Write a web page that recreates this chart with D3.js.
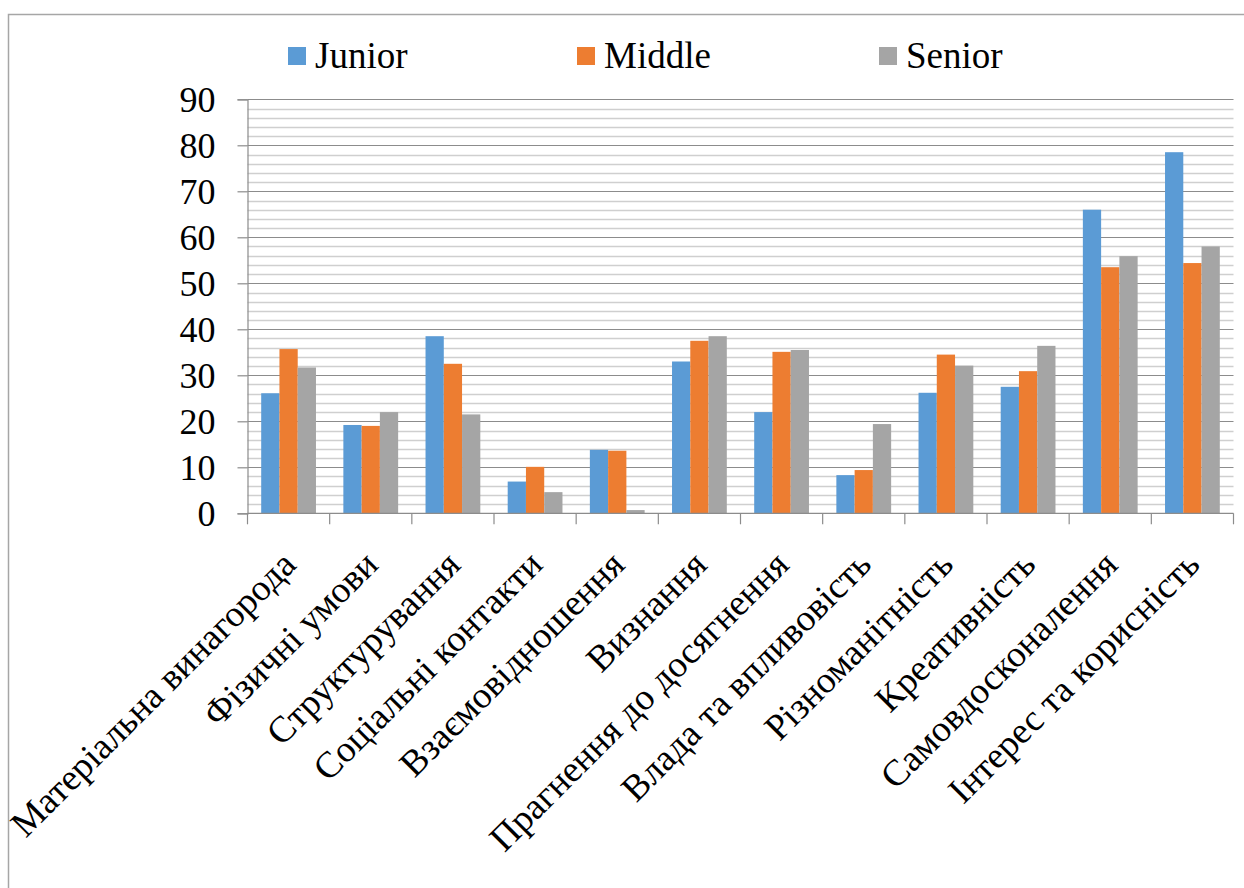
<!DOCTYPE html>
<html>
<head>
<meta charset="utf-8">
<script src="https://cdn.jsdelivr.net/npm/d3@7"></script>
</head>
<body style="margin:0">
<svg id="chart" width="1244" height="888" style="display:block"></svg>
<script>
// Work motivation factors by seniority level
const categories = [
  "Матеріальна винагорода",
  "Фізичні умови",
  "Структурування",
  "Соціальні контакти",
  "Взаємовідношення",
  "Визнання",
  "Прагнення до досягнення",
  "Влада та впливовість",
  "Різноманітність",
  "Креативність",
  "Самовдосконалення",
  "Інтерес та корисність"
];
const seriesNames = ["Junior", "Middle", "Senior"];
const junior = [26.1, 19.2, 38.5, 6.9, 13.8, 33.0, 22.0, 8.3, 26.2, 27.5, 66.0, 78.5];
const middle = [35.7, 19.0, 32.5, 10.1, 13.6, 37.5, 35.1, 9.4, 34.5, 30.9, 53.5, 54.4];
const senior = [31.7, 22.0, 21.5, 4.6, 0.7, 38.5, 35.5, 19.4, 32.1, 36.4, 55.9, 58.0];
const yTicks = [0, 10, 20, 30, 40, 50, 60, 70, 80, 90];
const colors = ["#5B9BD5", "#ED7D31", "#A5A5A5"];

const values = [junior, middle, senior];
const FONT = "'Liberation Serif'";
const svg = d3.select("#chart");

// Outer chart frame (top and left edges)
svg.append("path")
  .attr("d", "M8.5,888 L8.5,14.5 L1244,14.5")
  .attr("fill", "none").attr("stroke", "#a6a6a6").attr("stroke-width", 1.5);

const plot = { left: 247.5, right: 1233.5, top: 99.3, bottom: 513.3 };

const x = d3.scaleBand().domain(categories).range([plot.left, plot.right]).paddingInner(0).paddingOuter(0);
const y = d3.scaleLinear().domain([0, 90]).range([plot.bottom, plot.top]);
const bw = x.bandwidth();
const barW = bw / 4.5;
const xs = d3.scaleBand().domain(seriesNames).range([bw / 2 - 1.5 * barW, bw / 2 + 1.5 * barW]).padding(0);

// Minor gridlines every 2 units
const minor = d3.range(2, 90, 2).filter(v => v % 10 !== 0);
svg.append("g").selectAll("line").data(minor).join("line")
  .attr("x1", plot.left).attr("x2", plot.right)
  .attr("y1", d => Math.round(y(d)) + 0.5).attr("y2", d => Math.round(y(d)) + 0.5)
  .attr("stroke", "#cfcfcf").attr("stroke-width", 1.3);

// Major gridlines
svg.append("g").selectAll("line").data(yTicks.filter(d => d > 0)).join("line")
  .attr("x1", plot.left).attr("x2", plot.right)
  .attr("y1", d => Math.round(y(d)) + 0.5).attr("y2", d => Math.round(y(d)) + 0.5)
  .attr("stroke", "#8c8c8c").attr("stroke-width", 1.2);

// Bars
const groups = svg.append("g").selectAll("g").data(categories).join("g")
  .attr("transform", d => `translate(${x(d)},0)`);
groups.selectAll("rect")
  .data((d, i) => seriesNames.map((s, k) => ({ s, k, v: values[k][i] })))
  .join("rect")
  .attr("x", d => xs(d.s))
  .attr("width", xs.bandwidth())
  .attr("y", d => y(d.v))
  .attr("height", d => y(0) - y(d.v))
  .attr("fill", d => colors[d.k]);

// Y axis
const yAxis = d3.axisLeft(y).tickValues(yTicks).tickSize(10).tickPadding(22).tickFormat(d3.format("d"));
const gy = svg.append("g").attr("transform", `translate(${plot.left},0)`).call(yAxis)
  .attr("font-family", FONT).attr("font-size", 36);
gy.select(".domain").attr("stroke", "#8c8c8c").attr("stroke-width", 1.2);
gy.selectAll(".tick line").attr("stroke", "#8c8c8c").attr("stroke-width", 1.2);
gy.selectAll(".tick text")
  .attr("font-family", FONT).attr("font-size", 36)
  .attr("fill", "#000").attr("dy", "0.34em");

// X axis: tick marks at category boundaries
const gx = svg.append("g").attr("transform", `translate(0,${plot.bottom})`);
gx.append("line").attr("x1", plot.left).attr("x2", plot.right)
  .attr("stroke", "#8c8c8c").attr("stroke-width", 1.2);
const bounds = categories.map(c => x(c)).concat([plot.right]);
gx.selectAll("line.tk").data(bounds).join("line").attr("class", "tk")
  .attr("x1", d => d).attr("x2", d => d).attr("y1", 0).attr("y2", 11)
  .attr("stroke", "#8c8c8c").attr("stroke-width", 1.2);

// Rotated category labels
gx.selectAll("text.cat").data(categories).join("text").attr("class", "cat")
  .attr("transform", d => `translate(${x(d) + bw / 2 - 9},${35}) rotate(-45)`)
  .attr("text-anchor", "end")
  .attr("dy", "0.7em")
  .attr("font-family", FONT)
  .attr("font-size", 37)
  .attr("fill", "#000")
  .text(d => d);

// Legend
const legendX = [288, 577, 879];
const legend = svg.append("g").selectAll("g").data(seriesNames).join("g")
  .attr("transform", (d, i) => `translate(${legendX[i]},47)`);
legend.append("rect").attr("width", 18).attr("height", 18).attr("fill", (d, i) => colors[i]);
legend.append("text").attr("x", 27).attr("y", 21)
  .attr("font-family", FONT).attr("font-size", 37).attr("fill", "#000")
  .text(d => d);
</script>
</body>
</html>
